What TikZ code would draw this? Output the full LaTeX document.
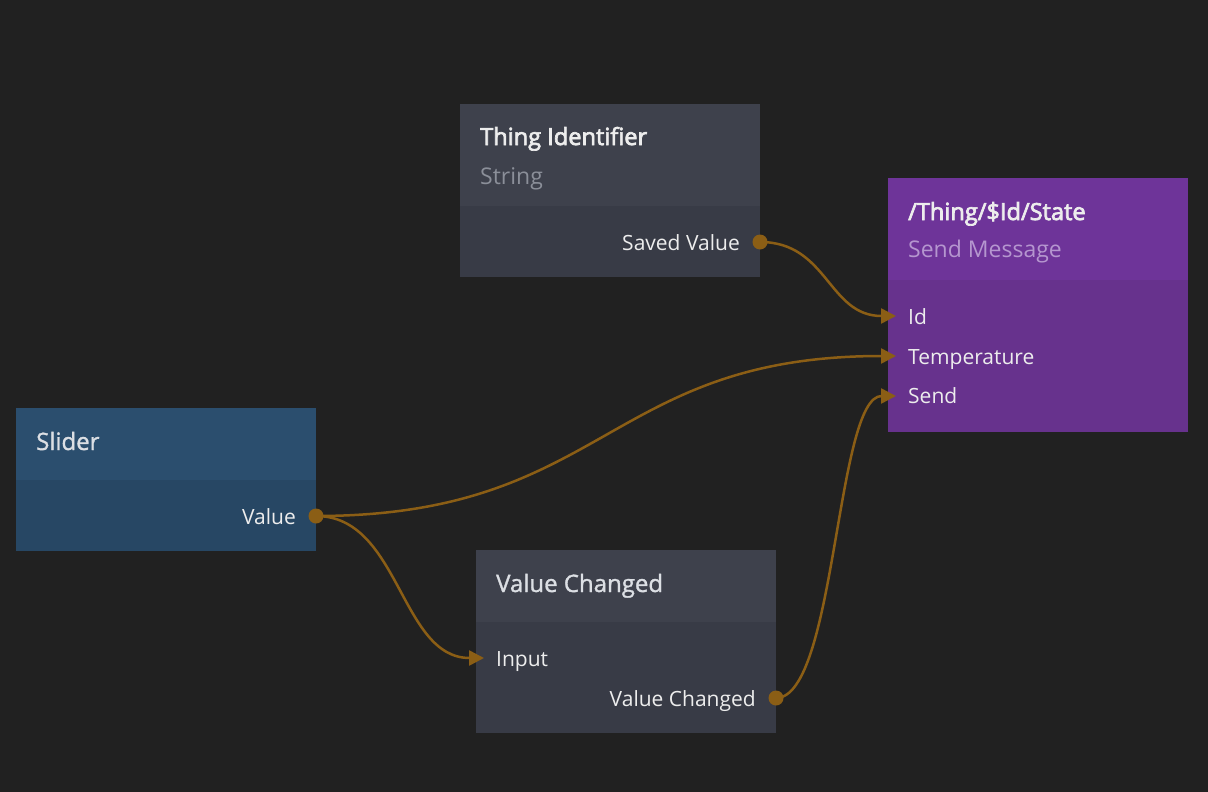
\documentclass[tikz,border=0pt]{standalone}
\usepackage{fontspec}
\setmainfont{Open Sans}
\newcommand\heavytxt[2]{\special{pdf:literal direct 2 Tr #1 w}#2\special{pdf:literal direct 0 Tr}}
\usetikzlibrary{arrows.meta,calc}
\definecolor{bg}{HTML}{212121}
\definecolor{grayHead}{HTML}{3E414C}
\definecolor{grayBody}{HTML}{383B46}
\definecolor{purpHead}{HTML}{6E3499}
\definecolor{purpBody}{HTML}{67328D}
\definecolor{blueHead}{HTML}{2B4E6E}
\definecolor{blueBody}{HTML}{274764}
\definecolor{wire}{HTML}{8B5E15}
\definecolor{txt}{HTML}{EDEDED}
\definecolor{txtb}{HTML}{DCDFE4}
\definecolor{subgray}{HTML}{8B8F99}
\definecolor{subpurp}{HTML}{B596CF}
\begin{document}
\begin{tikzpicture}[x=1pt,y=-1pt,
  box/.style={inner sep=0pt,outer sep=0pt,anchor=north west,minimum width=300pt},
  lbl/.style={inner sep=0pt,text=txt,font=\fontsize{21}{25}\selectfont},
  ttl/.style={lbl,anchor=base west,text=txtb,font=\fontsize{24}{28}\selectfont},
  ttlb/.style={lbl,anchor=base west,font=\fontsize{23.6}{28}\selectfont},
  sub/.style={lbl,anchor=base west,font=\fontsize{23}{27}\selectfont},
  inport/.style={lbl,anchor=base west},
  outport/.style={lbl,anchor=base east},
  wire/.style={draw=wire,line width=2.5pt},
  arr/.style={wire,-{Triangle[length=15pt,width=15pt]}},
  dot/.style={fill=wire}]
\fill[bg] (0,0) rectangle (1208,792);
\useasboundingbox (0,0) rectangle (1208,792);

% Thing Identifier
\node[box,fill=grayBody,minimum height=173pt] (ti) at (460,104) {};
\fill[grayHead] (ti.north west) rectangle ($(ti.north east)+(0,102)$);
\node[ttlb] (tit) at (480,145) {\heavytxt{0.7}{Thing Identifier}};
\node[sub,text=subgray] (tis) at (480,184) {String};
\node[outport] (tio) at (740,250) {Saved Value};

% Send Message
\node[box,fill=purpBody,minimum height=254pt] (sm) at (888,178) {};
\fill[purpHead] (sm.north west) rectangle ($(sm.north east)+(0,102)$);
\node[ttlb] (smt) at (908,220) {\heavytxt{0.7}{/Thing/\$Id/State}};
\node[sub,text=subpurp] (sms) at (908,257) {Send Message};
\node[inport] (smid) at (908,324) {Id};
\node[inport] (smtemp) at (908,364) {Temperature};
\node[inport] (smsend) at (908,403) {Send};

% Slider
\node[box,fill=blueBody,minimum height=143pt] (sl) at (16,408) {};
\fill[blueHead] (sl.north west) rectangle ($(sl.north east)+(0,72)$);
\node[ttl] (slt) at (36,450) {\heavytxt{0.3}{Slider}};
\node[outport] (slv) at (296,524) {Value};

% Value Changed
\node[box,fill=grayBody,minimum height=183pt] (vc) at (476,550) {};
\fill[grayHead] (vc.north west) rectangle ($(vc.north east)+(0,72)$);
\node[ttl] (vct) at (496,592) {\heavytxt{0.3}{Value Changed}};
\node[inport] (vcin) at (496,666) {Input};
\node[outport] (vco) at (756,706) {Value Changed};

% port coordinates
\coordinate (pSaved) at (760,242);
\coordinate (pId) at (896,316);
\coordinate (pTemp) at (896,356);
\coordinate (pSend) at (896,396);
\coordinate (pValue) at (316,516);
\coordinate (pInput) at (484,658);
\coordinate (pChanged) at (776,698);

% wires
\draw[arr] (pSaved) .. controls (828,242) and (828,316) .. (pId);
\draw[arr] (pValue) .. controls (606,516) and (606,356) .. (pTemp);
\draw[arr] (pValue) .. controls (400,516) and (400,658) .. (pInput);
\draw[arr] (pChanged) .. controls (836,698) and (836,396) .. (pSend);

% output dots
\fill[dot] (pSaved) circle (7.5pt);
\fill[dot] (pValue) circle (7.5pt);
\fill[dot] (pChanged) circle (7.5pt);
\end{tikzpicture}
\end{document}
